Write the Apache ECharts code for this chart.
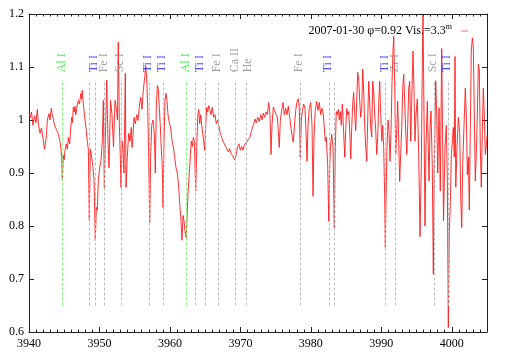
<!DOCTYPE html>
<html>
<head>
<meta charset="utf-8">
<script src="https://cdn.jsdelivr.net/npm/echarts@6/dist/echarts.min.js"></script>
<style>
  html, body { margin: 0; padding: 0; background: #fff; }
  #chart { width: 509px; height: 356px; }
</style>
</head>
<body>
<div id="chart"></div>
<script>
// spectrum, wavelength in Angstrom / normalised flux
const wave = [
  3940.00, 3940.21, 3940.35, 3940.57, 3940.78, 3940.99, 3941.18, 3941.35, 3941.56, 3941.77,
  3941.99, 3942.20, 3942.37, 3942.48, 3942.60, 3942.84, 3942.98, 3943.17, 3943.31, 3943.41,
  3943.62, 3943.79, 3943.97, 3944.12, 3944.26, 3944.40, 3944.50, 3944.64, 3944.73, 3944.87,
  3945.00, 3945.11, 3945.29, 3945.44, 3945.58, 3945.78, 3945.92, 3946.06, 3946.17, 3946.29,
  3946.42, 3946.53, 3946.64, 3946.77, 3946.88, 3947.00, 3947.17, 3947.34, 3947.45, 3947.56,
  3947.71, 3947.83, 3947.95, 3948.13, 3948.27, 3948.42, 3948.56, 3948.70, 3948.90, 3949.08,
  3949.23, 3949.41, 3949.55, 3949.69, 3949.84, 3950.03, 3950.22, 3950.40, 3950.55, 3950.69,
  3950.83, 3951.03, 3951.21, 3951.35, 3951.57, 3951.78, 3951.99, 3952.21, 3952.42, 3952.56,
  3952.67, 3952.82, 3952.96, 3953.06, 3953.20, 3953.34, 3953.48, 3953.67, 3953.77, 3953.95,
  3954.15, 3954.33, 3954.52, 3954.62, 3954.76, 3954.90, 3955.09, 3955.29, 3955.47, 3955.65,
  3955.85, 3956.04, 3956.22, 3956.42, 3956.56, 3956.70, 3956.85, 3956.99, 3957.13, 3957.27,
  3957.41, 3957.60, 3957.78, 3957.93, 3958.07, 3958.21, 3958.35, 3958.49, 3958.63, 3958.78,
  3958.92, 3959.02, 3959.16, 3959.30, 3959.44, 3959.59, 3959.73, 3959.91, 3960.11, 3960.30,
  3960.48, 3960.68, 3960.86, 3961.05, 3961.25, 3961.43, 3961.57, 3961.71, 3961.86, 3962.00,
  3962.14, 3962.32, 3962.47, 3962.61, 3962.75, 3962.89, 3963.03, 3963.18, 3963.32, 3963.46,
  3963.66, 3963.80, 3963.94, 3964.08, 3964.23, 3964.37, 3964.51, 3964.65, 3964.79, 3964.94,
  3965.08, 3965.22, 3965.36, 3965.50, 3965.65, 3965.83, 3966.01, 3966.21, 3966.40, 3966.58,
  3966.78, 3966.97, 3967.15, 3967.35, 3967.53, 3967.72, 3967.92, 3968.10, 3968.29, 3968.48,
  3968.67, 3968.85, 3969.05, 3969.24, 3969.42, 3969.62, 3969.80, 3969.99, 3970.19, 3970.37,
  3970.56, 3970.76, 3970.94, 3971.12, 3971.32, 3971.51, 3971.69, 3971.89, 3972.08, 3972.26,
  3972.46, 3972.69, 3972.88, 3973.07, 3973.25, 3973.45, 3973.64, 3973.82, 3974.02, 3974.20,
  3974.35, 3974.49, 3974.67, 3974.87, 3975.06, 3975.24, 3975.38, 3975.52, 3975.67, 3975.86,
  3976.05, 3976.23, 3976.43, 3976.62, 3976.80, 3977.00, 3977.18, 3977.37, 3977.51, 3977.65,
  3977.85, 3978.04, 3978.22, 3978.36, 3978.50, 3978.65, 3978.79, 3978.99, 3979.17, 3979.31,
  3979.46, 3979.60, 3979.78, 3979.98, 3980.17, 3980.31, 3980.45, 3980.63, 3980.83, 3981.02,
  3981.20, 3981.40, 3981.58, 3981.77, 3981.91, 3982.05, 3982.19, 3982.39, 3982.54, 3982.68,
  3982.82, 3982.96, 3983.15, 3983.33, 3983.47, 3983.61, 3983.76, 3983.90, 3984.04, 3984.18,
  3984.32, 3984.47, 3984.61, 3984.81, 3984.95, 3985.09, 3985.23, 3985.37, 3985.52, 3985.66,
  3985.80, 3985.94, 3986.08, 3986.23, 3986.37, 3986.51, 3986.65, 3986.79, 3986.94, 3987.08,
  3987.22, 3987.36, 3987.50, 3987.64, 3987.79, 3987.93, 3988.07, 3988.21, 3988.35, 3988.50,
  3988.64, 3988.78, 3988.92, 3989.06, 3989.21, 3989.35, 3989.49, 3989.63, 3989.77, 3989.92,
  3990.06, 3990.20, 3990.34, 3990.48, 3990.57, 3990.67, 3990.81, 3990.95, 3991.09, 3991.24,
  3991.38, 3991.52, 3991.66, 3991.76, 3991.90, 3992.04, 3992.19, 3992.33, 3992.47, 3992.61,
  3992.75, 3992.90, 3993.04, 3993.18, 3993.32, 3993.46, 3993.61, 3993.75, 3993.89, 3994.03,
  3994.17, 3994.32, 3994.50, 3994.64, 3994.78, 3994.93, 3995.11, 3995.31, 3995.49, 3995.68,
  3995.82, 3995.92, 3996.06, 3996.20, 3996.34, 3996.53, 3996.77, 3996.91, 3997.05, 3997.24,
  3997.38, 3997.52, 3997.72, 3997.86, 3998.01, 3998.19, 3998.37, 3998.57, 3998.69, 3998.83,
  3999.04, 3999.23, 3999.37, 3999.51, 3999.65, 3999.79, 3999.94, 4000.08, 4000.22, 4000.36,
  4000.46, 4000.57, 4000.74, 4000.93, 4001.13, 4001.27, 4001.41, 4001.55, 4001.74, 4001.92,
  4002.06, 4002.21, 4002.35, 4002.49, 4002.63, 4002.77, 4002.92, 4003.06, 4003.20, 4003.34,
  4003.48, 4003.63, 4003.77, 4003.91, 4004.05, 4004.19, 4004.34, 4004.48, 4004.62, 4004.76,
  4004.96, 4005.00
]
const flux = [
  1.012, 1.005, 1.015, 0.990, 1.008, 0.995, 1.020, 0.990, 0.975, 0.985,
  0.965, 0.945, 0.943, 0.970, 1.000, 1.012, 1.000, 1.022, 1.010, 1.005,
  0.990, 0.985, 0.985, 0.975, 0.967, 0.960, 0.948, 0.930, 0.886, 0.933,
  0.925, 0.943, 0.955, 0.945, 0.967, 0.955, 0.985, 1.005, 0.995, 1.024,
  1.015, 1.026, 1.010, 1.012, 1.030, 1.037, 1.030, 1.050, 1.040, 1.056,
  1.030, 1.015, 1.000, 0.980, 0.960, 0.945, 0.810, 0.945, 0.930, 0.910,
  0.886, 0.773, 0.835, 0.830, 0.886, 0.910, 0.924, 0.960, 1.037, 0.873,
  0.960, 1.075, 0.960, 0.910, 1.037, 1.010, 0.950, 1.037, 1.020, 1.000,
  1.147, 0.993, 0.930, 0.873, 0.960, 0.943, 0.900, 1.088, 0.873, 0.930,
  0.975, 0.960, 0.986, 0.948, 0.970, 1.005, 0.993, 1.010, 0.999, 1.024,
  1.043, 1.020, 1.056, 1.080, 1.103, 1.080, 1.024, 0.930, 0.807, 0.930,
  0.990, 1.000, 0.975, 0.900, 1.024, 1.065, 1.060, 1.024, 0.990, 0.945,
  0.910, 0.835, 0.960, 1.037, 1.050, 1.035, 1.010, 0.995, 0.985, 0.960,
  0.950, 0.930, 0.910, 0.900, 0.873, 0.835, 0.810, 0.773, 0.820, 0.810,
  0.790, 0.778, 0.830, 0.873, 0.900, 0.930, 0.960, 0.950, 0.967, 0.960,
  0.866, 0.945, 1.005, 1.020, 0.993, 1.010, 0.990, 0.975, 0.960, 0.943,
  0.990, 1.024, 1.015, 1.027, 1.030, 1.010, 1.024, 1.005, 1.010, 0.993,
  1.000, 0.987, 0.975, 0.972, 0.960, 0.958, 0.950, 0.952, 0.940, 0.946,
  0.937, 0.933, 0.930, 0.924, 0.937, 0.950, 0.955, 0.943, 0.950, 0.943,
  0.952, 0.950, 0.960, 0.958, 0.967, 0.976, 0.985, 0.992, 1.002, 0.995,
  1.005, 0.997, 1.010, 1.000, 1.013, 1.005, 1.015, 1.010, 1.033, 1.010,
  0.935, 0.990, 1.024, 1.018, 1.010, 1.005, 0.980, 0.948, 1.000, 1.018,
  1.033, 1.010, 1.022, 1.010, 1.026, 1.005, 0.985, 0.968, 0.958, 0.985,
  1.018, 1.035, 1.040, 1.022, 0.930, 1.000, 1.018, 1.030, 1.022, 0.980,
  0.922, 0.990, 1.022, 1.033, 0.990, 0.856, 0.970, 1.018, 1.035, 1.018,
  1.033, 1.010, 1.022, 1.010, 0.985, 0.960, 0.968, 0.916, 0.809, 0.916,
  0.955, 0.973, 0.948, 0.797, 0.948, 1.016, 1.010, 1.020, 1.000, 1.016,
  0.990, 1.030, 0.990, 0.930, 0.980, 1.022, 1.010, 1.016, 0.980, 0.927,
  0.985, 1.030, 1.052, 1.010, 0.980, 1.035, 1.090, 1.075, 1.035, 1.005,
  1.022, 1.096, 1.055, 0.990, 0.948, 0.922, 1.000, 1.073, 1.035, 0.985,
  0.968, 1.073, 1.055, 1.010, 0.980, 0.935, 0.968, 1.030, 1.073, 1.010,
  0.960, 0.990, 0.948, 0.854, 0.760, 0.850, 0.948, 1.000, 0.980, 0.922,
  0.980, 1.073, 1.130, 1.158, 1.073, 0.935, 0.980, 1.035, 0.960, 0.884,
  0.935, 0.985, 1.060, 1.086, 1.035, 0.980, 0.935, 0.990, 1.060, 1.073,
  0.960, 1.040, 1.130, 1.055, 0.960, 1.010, 1.040, 0.935, 0.780, 0.916,
  1.105, 1.198, 1.010, 0.800, 0.948, 1.035, 0.885, 0.980, 1.017, 0.910,
  0.709, 0.916, 1.074, 1.010, 0.900, 1.023, 0.866, 1.135, 0.980, 0.810,
  0.948, 0.990, 0.885, 0.608, 0.790, 0.840, 0.935, 0.960, 0.986, 0.930,
  1.120, 0.873, 0.948, 1.005, 0.974, 0.854, 0.797, 0.916, 0.990, 1.060,
  1.010, 0.897, 0.930, 0.830, 0.980, 1.130, 1.155, 1.137, 1.010, 0.885,
  0.935, 1.010, 1.105, 1.095, 0.948, 0.873, 0.980, 1.060, 1.010, 0.935,
  0.960, 0.970
]

// line identifications (dashed markers)
const lineWave = [3944.73, 3948.56, 3949.41, 3950.69, 3953.06, 3957.13, 3959.02, 3962.33,
  3963.66, 3965.08, 3966.82, 3969.28, 3970.90, 3978.50, 3982.62, 3983.32, 3990.57,
  3991.99, 3997.45, 3999.54]
const lineColor = ['#7dfc7d', '#bbbbbb', '#bbbbbb', '#bbbbbb', '#bbbbbb', '#bbbbbb', '#bbbbbb',
  '#7dfc7d', '#bbbbbb', '#bbbbbb', '#bbbbbb', '#bbbbbb', '#bbbbbb', '#bbbbbb', '#bbbbbb',
  '#bbbbbb', '#bbbbbb', '#bbbbbb', '#bbbbbb', '#bbbbbb']
const lineFrom = 0.65
const lineTo = 1.075

const labelText = ['Al I', 'Ti I', 'Fe I', 'Sc I', 'Ti I', 'Ti I', 'Al I', 'Ti I', 'Fe I',
  'Ca II', 'He', 'Fe I', 'Ti I', 'Ti I', 'Zr I', 'Sc I', 'Ti I']
const labelWave = [3944.70, 3949.27, 3950.64, 3952.92, 3956.93, 3958.83, 3962.24, 3964.27,
  3966.72, 3969.24, 3971.12, 3978.36, 3982.39, 3990.48, 3991.94, 3997.29, 3999.37]
const labelColor = ['#22ee22', '#2020ff', '#888888', '#888888', '#2020ff', '#2020ff', '#22ee22',
  '#2020ff', '#888888', '#888888', '#888888', '#888888', '#2020ff', '#2020ff', '#888888',
  '#888888', '#2020ff']
const labelAt = 1.09

const seriesName = '2007-01-30 φ=0.92 Vis.=3.3m'
const serif = "'Liberation Serif', 'DejaVu Serif', serif"

const chart = echarts.init(document.getElementById('chart'))

const axisLine = { show: true, lineStyle: { color: '#222', width: 1 } }
const majorX = {
  type: 'value', min: 3940, max: 4005, interval: 10,
  axisLine: axisLine,
  axisTick: { show: true, inside: true, length: 5, lineStyle: { color: '#222' } },
  splitLine: { show: false }
}
const minorX = {
  type: 'value', min: 3940, max: 4005, interval: 1,
  axisLine: { show: false },
  axisTick: { show: true, inside: true, length: 2.5, lineStyle: { color: '#222' } },
  axisLabel: { show: false },
  splitLine: { show: false }
}
const yBase = {
  type: 'value', min: 0.6, max: 1.2, interval: 0.1,
  axisLine: axisLine,
  axisTick: { show: true, inside: true, length: 5, lineStyle: { color: '#222' } },
  splitLine: { show: false }
}

const option = {
  animation: false,
  backgroundColor: '#fff',
  grid: { left: 29, right: 22, top: 14, bottom: 24 },
  legend: {
    data: [seriesName],
    right: 36,
    top: 18,
    align: 'right',
    icon: 'rect',
    itemWidth: 7,
    itemHeight: 1,
    itemStyle: { color: '#ff7070' },
    selectedMode: false,
    formatter: () => '{a|2007-01-30 φ=0.92 Vis.=3.3}{b|m}',
    textStyle: {
      color: '#000',
      fontFamily: serif,
      fontSize: 12,
      rich: {
        a: { fontFamily: serif, fontSize: 12, color: '#000', lineHeight: 16 },
        b: { fontFamily: serif, fontSize: 8, color: '#000', verticalAlign: 'top', lineHeight: 16, padding: [0, 4, 0, 0] }
      }
    }
  },
  xAxis: [
    Object.assign({}, majorX, {
      position: 'bottom',
      axisLabel: {
        show: true, margin: 6, color: '#000', fontFamily: serif, fontSize: 12,
        showMaxLabel: false,
        formatter: (v) => (v % 10 === 0 ? String(v) : '')
      }
    }),
    Object.assign({}, majorX, { position: 'top', axisLabel: { show: false } }),
    Object.assign({}, minorX, { position: 'bottom' }),
    Object.assign({}, minorX, { position: 'top' })
  ],
  yAxis: [
    Object.assign({}, yBase, {
      position: 'left',
      axisLabel: { show: true, margin: 5, color: '#000', fontFamily: serif, fontSize: 12 }
    }),
    Object.assign({}, yBase, { position: 'right', axisLabel: { show: false } })
  ],
  series: [
    {
      name: seriesName,
      type: 'line',
      xAxisIndex: 0,
      yAxisIndex: 0,
      data: wave.map((w, i) => [w, flux[i]]),
      showSymbol: false,
      symbol: 'none',
      sampling: null,
      lineStyle: { color: '#ff1a1a', width: 0.9 },
      itemStyle: { color: '#ff0000' },
      z: 3,
      markLine: {
        silent: true,
        symbol: ['none', 'none'],
        label: { show: false },
        lineStyle: { type: [3, 2], width: 1 },
        data: lineWave.map((w, i) => [
          { coord: [w, lineFrom], lineStyle: { color: lineColor[i], type: [3, 2], width: 1 } },
          { coord: [w, lineTo] }
        ])
      }
    },
    {
      name: 'ids',
      type: 'scatter',
      xAxisIndex: 0,
      yAxisIndex: 0,
      silent: true,
      symbolSize: 1,
      itemStyle: { color: 'rgba(0,0,0,0)' },
      z: 4,
      data: labelText.map((t, i) => ({
        name: t,
        value: [labelWave[i], labelAt],
        label: { color: labelColor[i] }
      })),
      label: {
        show: true,
        position: 'inside',
        rotate: 90,
        align: 'left',
        verticalAlign: 'middle',
        fontFamily: serif,
        fontSize: 12,
        formatter: (p) => p.name
      }
    }
  ]
}

chart.setOption(option)
</script>
</body>
</html>
